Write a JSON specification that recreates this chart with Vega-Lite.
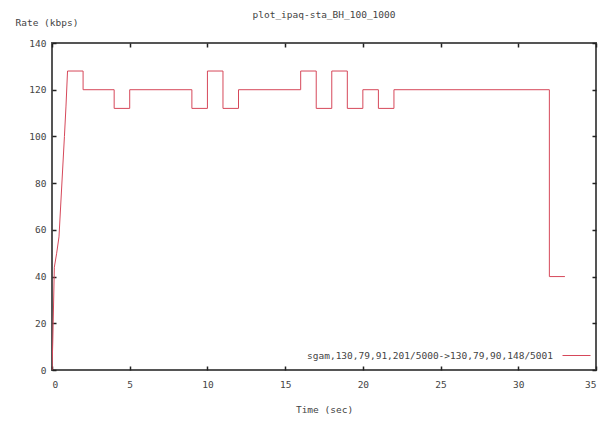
{
  "$schema": "https://vega.github.io/schema/vega-lite/v6.json",
  "width": 544,
  "height": 327,
  "autosize": {"type": "none"},
  "padding": {"left": 52, "top": 43, "right": 6, "bottom": 53},
  "background": "white",
  "title": {
    "text": "plot_ipaq-sta_BH_100_1000",
    "font": "DejaVu Sans Mono",
    "fontSize": 9.5,
    "fontWeight": "normal",
    "color": "#444",
    "anchor": "middle",
    "offset": -2
  },
  "config": {
    "view": {"stroke": "#555", "strokeWidth": 2},
    "axis": {
      "labelFont": "DejaVu Sans Mono",
      "labelFontSize": 9.5,
      "labelColor": "#444",
      "titleFont": "DejaVu Sans Mono",
      "titleFontSize": 9.5,
      "titleFontWeight": "normal",
      "titleColor": "#444",
      "grid": false,
      "domain": false,
      "tickColor": "#222",
      "tickSize": -4,
      "tickWidth": 1.5
    }
  },
  "data": {
    "values": [
      {"i": 0, "t": 0, "rate": 0},
      {"i": 1, "t": 0.05, "rate": 12},
      {"i": 2, "t": 0.15, "rate": 44},
      {"i": 3, "t": 0.3, "rate": 50},
      {"i": 4, "t": 0.45, "rate": 57},
      {"i": 5, "t": 0.8, "rate": 100},
      {"i": 6, "t": 0.9, "rate": 113},
      {"i": 7, "t": 1.0, "rate": 128},
      {"i": 8, "t": 2, "rate": 128},
      {"i": 9, "t": 2, "rate": 120},
      {"i": 10, "t": 4, "rate": 120},
      {"i": 11, "t": 4, "rate": 112},
      {"i": 12, "t": 5, "rate": 112},
      {"i": 13, "t": 5, "rate": 120},
      {"i": 14, "t": 9, "rate": 120},
      {"i": 15, "t": 9, "rate": 112},
      {"i": 16, "t": 10, "rate": 112},
      {"i": 17, "t": 10, "rate": 128},
      {"i": 18, "t": 11, "rate": 128},
      {"i": 19, "t": 11, "rate": 112},
      {"i": 20, "t": 12, "rate": 112},
      {"i": 21, "t": 12, "rate": 120},
      {"i": 22, "t": 16, "rate": 120},
      {"i": 23, "t": 16, "rate": 128},
      {"i": 24, "t": 17, "rate": 128},
      {"i": 25, "t": 17, "rate": 112},
      {"i": 26, "t": 18, "rate": 112},
      {"i": 27, "t": 18, "rate": 128},
      {"i": 28, "t": 19, "rate": 128},
      {"i": 29, "t": 19, "rate": 112},
      {"i": 30, "t": 20, "rate": 112},
      {"i": 31, "t": 20, "rate": 120},
      {"i": 32, "t": 21, "rate": 120},
      {"i": 33, "t": 21, "rate": 112},
      {"i": 34, "t": 22, "rate": 112},
      {"i": 35, "t": 22, "rate": 120},
      {"i": 36, "t": 32, "rate": 120},
      {"i": 37, "t": 32, "rate": 40},
      {"i": 38, "t": 33, "rate": 40}
    ]
  },
  "layer": [
    {
      "mark": {"type": "line", "strokeWidth": 1, "clip": true},
      "encoding": {
        "x": {
          "field": "t",
          "type": "quantitative",
          "scale": {"domain": [0, 35], "nice": false, "zero": false},
          "axis": {"values": [0, 5, 10, 15, 20, 25, 30, 35], "title": "Time (sec)", "labelPadding": 13, "titlePadding": 16}
        },
        "y": {
          "field": "rate",
          "type": "quantitative",
          "scale": {"domain": [0, 140], "nice": false},
          "axis": {"values": [0, 20, 40, 60, 80, 100, 120, 140], "title": "Rate (kbps)", "labelPadding": 10, "titleAngle": 0, "titleAlign": "left", "titleBaseline": "middle", "titleX": -37, "titleY": -21}
        },
        "order": {"field": "i"},
        "color": {
          "datum": "sgam,130,79,91,201/5000->130,79,90,148/5001",
          "scale": {"range": ["#d6485a"]},
          "legend": {
            "title": null,
            "orient": "none",
            "legendX": 510,
            "legendY": 298,
            "symbolType": "stroke",
            "symbolSize": 784,
            "symbolStrokeWidth": 1,
            "labelAlign": "right",
            "labelOffset": -38,
            "labelFont": "DejaVu Sans Mono",
            "labelFontSize": 9.5,
            "labelColor": "#444",
            "labelLimit": 400
          }
        }
      }
    },
    {
      "mark": {"type": "line", "opacity": 0},
      "encoding": {
        "x": {
          "field": "t",
          "type": "quantitative",
          "axis": {"orient": "top", "values": [0, 5, 10, 15, 20, 25, 30, 35], "labels": false, "title": null}
        },
        "y": {
          "field": "rate",
          "type": "quantitative",
          "axis": {"orient": "right", "values": [0, 20, 40, 60, 80, 100, 120, 140], "labels": false, "title": null}
        },
        "order": {"field": "i"}
      }
    }
  ],
  "resolve": {"axis": {"x": "independent", "y": "independent"}}
}
